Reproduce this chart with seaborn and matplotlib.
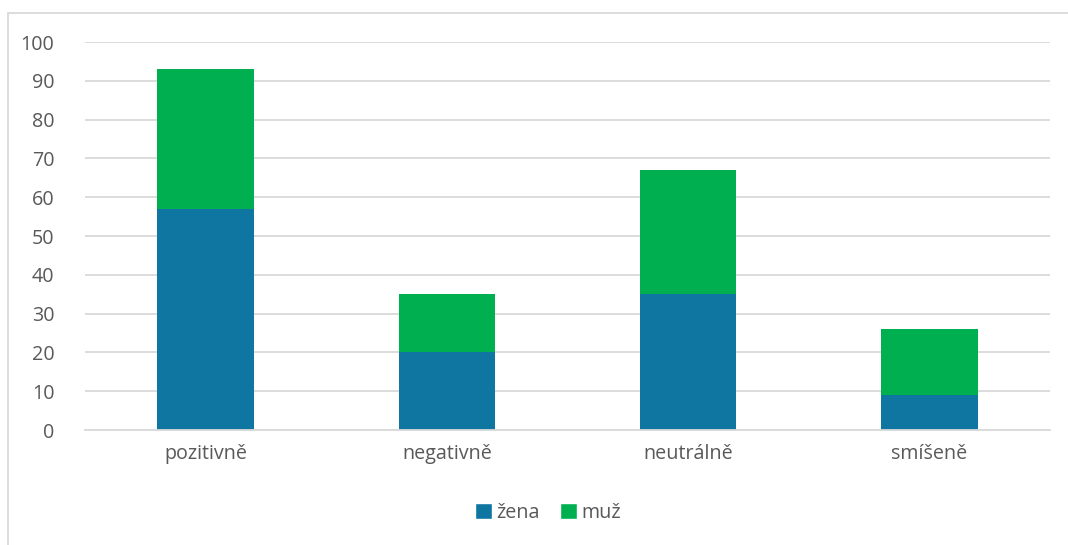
import matplotlib
matplotlib.use("Agg")
import matplotlib.pyplot as plt
import seaborn as sns
import pandas as pd
from matplotlib.patches import Rectangle, Patch

categories = ["pozitivně", "negativně", "neutrálně", "smíšeně"]
zena = [57, 20, 35, 9]
muz = [36, 15, 32, 17]
yticks = [0, 10, 20, 30, 40, 50, 60, 70, 80, 90, 100]

sns.set_theme(style="white")
plt.rcParams['font.family'] = ['Open Sans', 'DejaVu Sans']

blue = "#0E76A0"
green = "#00B050"
txt = "#595959"

df = pd.DataFrame({"cat": categories, "zena": zena, "muz": muz})
df["total"] = df["zena"] + df["muz"]

W, H = 1068, 545
fig = plt.figure(figsize=(W/100, H/100), dpi=100)
ax = fig.add_axes([85/W, 1-430/H, (1050-85)/W, (430-42)/H])

sns.barplot(data=df, x="cat", y="total", color=green, width=0.4, ax=ax, saturation=1, linewidth=0)
sns.barplot(data=df, x="cat", y="zena", color=blue, width=0.4, ax=ax, saturation=1, linewidth=0)

ax.set_ylim(0, 100)
ax.set_yticks(yticks)
ax.set_xlim(-0.5, 3.5)
ax.yaxis.grid(True, color="#D9D9D9", linewidth=1.3)
ax.set_axisbelow(True)
for s in ["top", "right", "left"]:
    ax.spines[s].set_visible(False)
ax.spines["bottom"].set_color("#D9D9D9")
ax.spines["bottom"].set_linewidth(1.3)
ax.set_xlabel("")
ax.set_ylabel("")
ax.tick_params(axis="both", length=0, labelsize=14.2, colors=txt)
ax.tick_params(axis="y", pad=22)
ax.tick_params(axis="x", pad=10)
for lbl in ax.get_yticklabels():
    lbl.set_horizontalalignment("right")

handles = [Patch(facecolor=blue, label="žena"), Patch(facecolor=green, label="muž")]
leg = fig.legend(handles=handles, loc="center", bbox_to_anchor=(548/W, 1-513/H), ncol=2,
                 frameon=False, fontsize=14.2, handlelength=0.85, handleheight=0.85,
                 handletextpad=0.25, columnspacing=1.0)
for t in leg.get_texts():
    t.set_color(txt)

fig.patches.append(Rectangle((8/W, -0.1), 1.2, 1-13/H+0.1, transform=fig.transFigure,
                             fill=False, edgecolor="#D9D9D9", linewidth=1.3))

fig.savefig("out.png", dpi=100, facecolor="white")
